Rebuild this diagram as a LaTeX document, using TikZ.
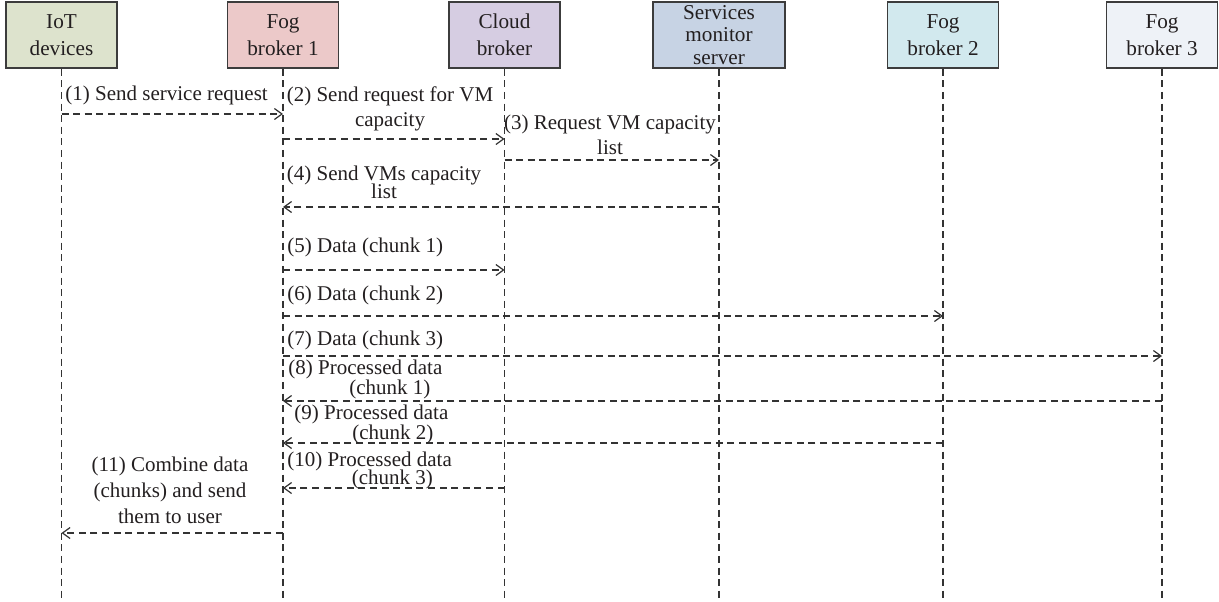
\documentclass[tikz,border=0pt]{standalone}
\usepackage{fontspec}
\setmainfont{Liberation Serif}
\usetikzlibrary{positioning}
\usetikzlibrary{arrows.meta}
\definecolor{boxline}{HTML}{3C3C3C}
\definecolor{dashline}{HTML}{333333}
\definecolor{txt}{HTML}{231F20}
\definecolor{iotfill}{HTML}{DDE3CD}
\definecolor{fogonefill}{HTML}{ECC9C9}
\definecolor{cloudfill}{HTML}{D6CDE2}
\definecolor{monfill}{HTML}{C7D3E4}
\definecolor{fogtwofill}{HTML}{D2E9EE}
\definecolor{fogthreefill}{HTML}{EEF2F7}

\begin{document}
\begin{tikzpicture}[x=0.5pt,y=-0.5pt,
  actor/.style={draw=boxline,line width=0.7pt,minimum width=55.5pt,minimum height=33pt,align=center,inner sep=1pt,text=txt,font=\fontsize{10.6}{13.5}\selectfont},
  life/.style={draw=dashline,line width=0.6pt,dash pattern=on 3.5pt off 2.3pt},
  msg/.style={life,-{Straight Barb[length=3.8pt,width=5.5pt]}},
  lbl/.style={inner sep=0pt,text=txt,font=\fontsize{10.5}{12.5}\selectfont}]
\useasboundingbox (0,0) rectangle (1219,601);

\node[actor,fill=iotfill] (iot) at (61.5,35) {IoT\\devices};
\node[actor,fill=fogonefill] (fog1) at (283,35) {Fog\\broker 1};
\node[actor,fill=cloudfill] (cloud) at (504.5,35) {Cloud\\broker};
\node[actor,fill=monfill,minimum width=66pt,font=\fontsize{10.6}{11.2}\selectfont] (monitor) at (719,35) {Services\\monitor\\server};
\node[actor,fill=fogtwofill] (fog2) at (943,35) {Fog\\broker 2};
\node[actor,fill=fogthreefill] (fog3) at (1162,35) {Fog\\broker 3};

\coordinate (bot) at (0,601);
\draw[life] (iot.south) -- (iot |- bot);
\draw[life] (fog1.south) -- (fog1 |- bot);
\draw[life] (cloud.south) -- (cloud |- bot);
\draw[life] (monitor.south) -- (monitor |- bot);
\draw[life] (fog2.south) -- (fog2 |- bot);
\draw[life] (fog3.south) -- (fog3 |- bot);

\coordinate (m1) at (0,114);
\coordinate (m2) at (0,139);
\coordinate (m3) at (0,160);
\coordinate (m4) at (0,207);
\coordinate (m5) at (0,270);
\coordinate (m6) at (0,316);
\coordinate (m7) at (0,356);
\coordinate (m8) at (0,401);
\coordinate (m9) at (0,443);
\coordinate (m10) at (0,488);
\coordinate (m11) at (0,533);

\draw[msg] (iot |- m1) -- (fog1 |- m1);
\draw[msg] (fog1 |- m2) -- (cloud |- m2);
\draw[msg] (cloud |- m3) -- (monitor |- m3);
\draw[msg] (monitor |- m4) -- (fog1 |- m4);
\draw[msg] (fog1 |- m5) -- (cloud |- m5);
\draw[msg] (fog1 |- m6) -- (fog2 |- m6);
\draw[msg] (fog1 |- m7) -- (fog3 |- m7);
\draw[msg] (fog3 |- m8) -- (fog1 |- m8);
\draw[msg] (fog2 |- m9) -- (fog1 |- m9);
\draw[msg] (cloud |- m10) -- (fog1 |- m10);
\draw[msg] (fog1 |- m11) -- (iot |- m11);

\node[lbl,anchor=west] (l1) at (65,95) {(1) Send service request};
\node[lbl,align=center] (l2) at (390,109) {(2) Send request for VM\\capacity};
\node[lbl,align=center] (l3) at (610,135) {(3) Request VM capacity\\list};
\node[lbl,align=center] (l4) at (384,182) {(4) Send VMs capacity\\[-3.5pt]list};
\node[lbl,anchor=west] (l5) at (287,247) {(5) Data (chunk 1)};
\node[lbl,anchor=west] (l6) at (287,295) {(6) Data (chunk 2)};
\node[lbl,anchor=west] (l7) at (287,340) {(7) Data (chunk 3)};
\node[lbl,align=right,anchor=west] (l8) at (288,379) {(8) Processed data\\[-2.5pt](chunk 1)\hspace*{6pt}};
\node[lbl,align=right,anchor=west] (l9) at (294,424) {(9) Processed data\\[-2.5pt](chunk 2)\hspace*{7.5pt}};
\node[lbl,align=right,anchor=west] (l10) at (287,470) {(10) Processed data\\[-3.5pt](chunk 3)\hspace*{9.5pt}};
\node[lbl,align=center,font=\fontsize{10.5}{13}\selectfont] (l11) at (170,490) {(11) Combine data\\(chunks) and send\\them to user};

\end{tikzpicture}
\end{document}
